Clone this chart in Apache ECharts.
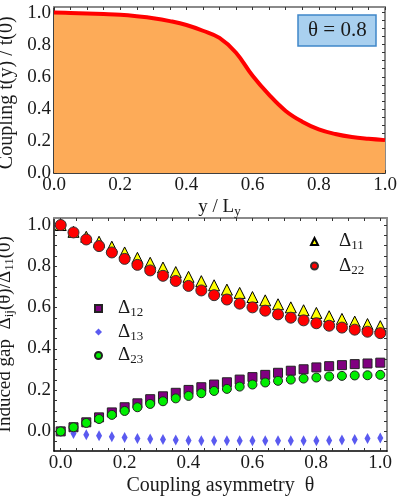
<!DOCTYPE html>
<html>
<head>
<meta charset="utf-8">
<script src="https://cdn.jsdelivr.net/npm/echarts@6/dist/echarts.min.js"></script>
<style>
  html, body { margin: 0; padding: 0; background: #fff; }
  #chart { width: 399px; height: 498px; }
</style>
</head>
<body>
<div id="chart"></div>
<script>
// top panel: coupling profile t(y)/t(0) at theta = 0.8
const yPos = [0, 0.05, 0.1, 0.15, 0.2, 0.25, 0.3, 0.35, 0.4, 0.45, 0.5,
  0.55, 0.6, 0.65, 0.7, 0.75, 0.8, 0.85, 0.9, 0.95, 1.0];
const coupling = [1.0, 0.998, 0.995, 0.991, 0.986, 0.977, 0.965, 0.947, 0.923, 0.887, 0.842,
  0.75, 0.606, 0.487, 0.387, 0.32, 0.272, 0.243, 0.224, 0.213, 0.205];

// bottom panel: induced gaps vs coupling asymmetry
const theta = [0, 0.04, 0.08, 0.12, 0.16, 0.2, 0.24, 0.28, 0.32, 0.36, 0.4, 0.44, 0.48,
  0.52, 0.56, 0.6, 0.64, 0.68, 0.72, 0.76, 0.8, 0.84, 0.88, 0.92, 0.96, 1.0];
const d11 = [1.0, 0.967, 0.943, 0.919, 0.895, 0.867, 0.841, 0.817, 0.794, 0.772, 0.749, 0.728, 0.708,
  0.687, 0.671, 0.651, 0.635, 0.616, 0.601, 0.587, 0.574, 0.558, 0.545, 0.532, 0.520, 0.510];
const d22 = [1.0, 0.964, 0.930, 0.898, 0.867, 0.836, 0.807, 0.780, 0.754, 0.729, 0.705, 0.683, 0.660,
  0.639, 0.619, 0.601, 0.585, 0.567, 0.551, 0.538, 0.524, 0.512, 0.503, 0.493, 0.483, 0.476];
const d12 = [0, 0.020, 0.044, 0.068, 0.092, 0.117, 0.136, 0.156, 0.170, 0.187, 0.201, 0.214, 0.227,
  0.238, 0.251, 0.263, 0.274, 0.284, 0.294, 0.301, 0.310, 0.316, 0.321, 0.326, 0.329, 0.333];
const d13 = [0, -0.010, -0.016, -0.021, -0.026, -0.029, -0.034, -0.037, -0.039, -0.042, -0.044, -0.045, -0.045,
  -0.045, -0.045, -0.045, -0.045, -0.045, -0.045, -0.045, -0.045, -0.044, -0.042, -0.039, -0.035, -0.032];
const d23 = [0, 0.020, 0.041, 0.060, 0.080, 0.099, 0.117, 0.133, 0.146, 0.160, 0.172, 0.185, 0.196,
  0.206, 0.217, 0.227, 0.237, 0.245, 0.251, 0.256, 0.261, 0.266, 0.269, 0.271, 0.272, 0.274];

// tick labels (shared by every axis) and tick mark positions
const tickLabels = ['0.0', '0.2', '0.4', '0.6', '0.8', '1.0'];
const minorTicks = [0, 0.05, 0.1, 0.15, 0.2, 0.25, 0.3, 0.35, 0.4, 0.45, 0.5,
  0.55, 0.6, 0.65, 0.7, 0.75, 0.8, 0.85, 0.9, 0.95, 1.0];
const gapTicks = [-0.05, 0, 0.05, 0.1, 0.15, 0.2, 0.25, 0.3, 0.35, 0.4, 0.45, 0.5,
  0.55, 0.6, 0.65, 0.7, 0.75, 0.8, 0.85, 0.9, 0.95, 1.0];

const serif = 'Times New Roman';
const ink = '#1a1a1a';
const rich = {
  b: { fontFamily: serif, fontSize: 19, color: ink },
  s: { fontFamily: serif, fontSize: 13, color: ink, padding: [9, 0, 0, 0] }
};

const pair = (xs, ys) => xs.map((x, i) => [x, ys[i]]);

// frame axis: line + inward ticks, no labels
function frameAxis(main, ticks, extra) {
  return Object.assign({
    type: 'value',
    axisLine: { show: true, onZero: false, lineStyle: { color: main ? '#000' : '#8a8a8a', width: main ? 1.5 : 2 } },
    axisTick: { show: true, inside: true, length: 3, customValues: ticks, lineStyle: { color: '#333', width: 1 } },
    axisLabel: { show: false },
    splitLine: { show: false }
  }, extra);
}

// label axis: tick labels 0.0 ... 1.0 spread over the 0..1 span of a panel
function labelAxis(vertical, extra) {
  const label = { interval: 0, fontFamily: serif, fontSize: 19, color: ink, margin: 3 };
  if (vertical) { label.align = 'right'; label.verticalAlign = 'middle'; }
  return Object.assign({
    type: 'category',
    data: tickLabels,
    boundaryGap: false,
    axisLine: { show: false },
    axisTick: { show: false },
    splitLine: { show: false },
    axisLabel: label
  }, extra);
}

const hidden = grid => ({ type: 'value', gridIndex: grid, show: false, min: 0, max: 1 });

const chart = echarts.init(document.getElementById('chart'));
chart.setOption({
  animation: false,
  backgroundColor: '#fff',
  textStyle: { fontFamily: serif },
  title: {
    text: 'θ = 0.8',
    left: 298, top: 15,
    padding: [5, 10, 5, 10],
    backgroundColor: '#a9d0ef',
    borderColor: '#3f86c9',
    borderWidth: 1.5,
    textStyle: { fontFamily: serif, fontSize: 21, fontWeight: 'normal', color: ink }
  },
  grid: [
    { left: 54, right: 14, top: 7, height: 166, outerBoundsMode: 'none' },        // top panel
    { left: 54, right: 12, top: 218, bottom: 47, outerBoundsMode: 'none' },       // bottom panel
    { left: 54, right: 14, top: 12.6, height: 160.4, outerBoundsMode: 'none' },   // top panel labels
    { left: 60.7, right: 19, top: 218, bottom: 47, outerBoundsMode: 'none' },     // bottom x labels
    { left: 54, right: 12, top: 224.9, bottom: 67.3, outerBoundsMode: 'none' }    // bottom y labels
  ],
  xAxis: [
    frameAxis(true, minorTicks, { gridIndex: 0, min: 0, max: 1, position: 'bottom' }),
    frameAxis(false, minorTicks, { gridIndex: 0, min: 0, max: 1, position: 'top' }),
    frameAxis(true, minorTicks, { gridIndex: 1, min: -0.021, max: 1.021, position: 'bottom' }),
    frameAxis(false, minorTicks, { gridIndex: 1, min: -0.021, max: 1.021, position: 'top' }),
    labelAxis(false, { gridIndex: 2, position: 'bottom',
      name: '{b|y / L}{s|y}', nameLocation: 'middle', nameGap: 23, nameTextStyle: { rich: rich } }),
    labelAxis(false, { gridIndex: 3, position: 'bottom',
      name: 'Coupling asymmetry  θ', nameLocation: 'middle', nameGap: 25,
      nameTextStyle: { fontFamily: serif, fontSize: 20, color: ink } }),
    hidden(4)
  ],
  yAxis: [
    frameAxis(true, minorTicks, { gridIndex: 0, min: 0, max: 1.035, position: 'left' }),
    frameAxis(false, minorTicks, { gridIndex: 0, min: 0, max: 1.035, position: 'right' }),
    frameAxis(true, gapTicks, { gridIndex: 1, min: -0.095, max: 1.034, position: 'left' }),
    frameAxis(false, gapTicks, { gridIndex: 1, min: -0.095, max: 1.034, position: 'right' }),
    labelAxis(true, { gridIndex: 2, position: 'left',
      name: 'Coupling t\u0303(y) / t\u0303(0)', nameLocation: 'middle', nameGap: 36,
      nameTextStyle: { fontFamily: serif, fontSize: 20, color: ink } }),
    hidden(3),
    labelAxis(true, { gridIndex: 4, position: 'left',
      name: '{b|Induced gap  Δ}{s|ij}{b|(θ)/Δ}{s|11}{b|(0)}', nameLocation: 'middle', nameGap: 34,
      nameTextStyle: { rich: rich, padding: [0, 13, 0, 0] } })
  ],
  legend: [
    {
      data: ['Δ11', 'Δ22'], orient: 'vertical', left: 305, top: 227,
      itemWidth: 7, itemHeight: 7, itemGap: 4,
      formatter: n => '{b|Δ}{s|' + n.slice(1) + '}',
      textStyle: { rich: rich, padding: [0, 0, 0, 16] }
    },
    {
      data: ['Δ12', 'Δ13', 'Δ23'], orient: 'vertical', left: 89, top: 294,
      itemWidth: 7, itemHeight: 7, itemGap: 3,
      formatter: n => '{b|Δ}{s|' + n.slice(1) + '}',
      textStyle: { rich: rich, padding: [0, 0, 0, 11] }
    }
  ],
  series: [
    {
      type: 'line', xAxisIndex: 0, yAxisIndex: 0,
      data: pair(yPos, coupling), smooth: 0.4, showSymbol: false,
      lineStyle: { color: '#ff0000', width: 4 },
      areaStyle: { color: '#fdab58', opacity: 1 }
    },
    {
      name: 'Δ11', type: 'scatter', xAxisIndex: 2, yAxisIndex: 2,
      data: pair(theta, d11), symbol: 'triangle', symbolSize: 11,
      itemStyle: { color: '#ffff00', borderColor: '#000', borderWidth: 1, opacity: 1 }
    },
    {
      name: 'Δ22', type: 'scatter', xAxisIndex: 2, yAxisIndex: 2,
      data: pair(theta, d22), symbol: 'circle', symbolSize: 11,
      itemStyle: { color: '#ff0000', borderColor: '#333', borderWidth: 1, opacity: 1 }
    },
    {
      name: 'Δ12', type: 'scatter', xAxisIndex: 2, yAxisIndex: 2,
      data: pair(theta, d12), symbol: 'rect', symbolSize: 9,
      itemStyle: { color: '#800080', borderColor: '#222', borderWidth: 1, opacity: 1 }
    },
    {
      name: 'Δ13', type: 'scatter', xAxisIndex: 2, yAxisIndex: 2,
      data: pair(theta, d13), symbol: 'diamond', symbolSize: [6, 11],
      itemStyle: { color: '#5a5af0', opacity: 1 }
    },
    {
      name: 'Δ23', type: 'scatter', xAxisIndex: 2, yAxisIndex: 2,
      data: pair(theta, d23), symbol: 'circle', symbolSize: 9,
      itemStyle: { color: '#00ee00', borderColor: '#222', borderWidth: 1, opacity: 1 }
    }
  ]
});
</script>
</body>
</html>
